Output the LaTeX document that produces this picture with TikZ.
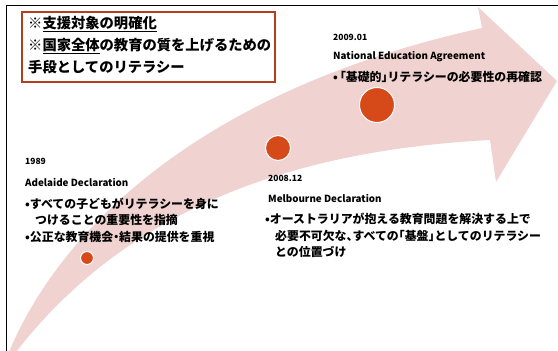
\documentclass[tikz,border=0pt]{standalone}
\usepackage{fontspec}
\setmainfont{Noto Sans CJK JP}[RawFeature=+halt]
\definecolor{bandpink}{RGB}{240,210,208}
\definecolor{dotred}{RGB}{214,74,26}
\definecolor{boxred}{RGB}{178,64,30}
\tikzset{
  dotnode/.style={circle,fill=dotred,draw=white,line width=1pt,inner sep=0pt},
  txt/.style={anchor=west,inner sep=0pt,font=\bfseries},
  yearlbl/.style={txt,font=\bfseries\fontsize{8.5}{10}\selectfont},
  decl/.style={txt,font=\bfseries\fontsize{9.8}{11}\selectfont},
  bul/.style={txt,font=\bfseries\fontsize{11.9}{13}\selectfont},
  ttl/.style={txt,font=\bfseries\fontsize{14.3}{16}\selectfont}
}
\begin{document}
\begin{tikzpicture}[x=1pt,y=-1pt]
\useasboundingbox (0,0) rectangle (558,351);
\fill[white] (0,0) rectangle (558,351);
% frame
\draw[black,line width=0.8pt] (6,351) -- (6,5) -- (558,5);
% curved arrow
\fill[bandpink] (9,352) .. controls (60,230) and (200,90) .. (482,28) -- (478,7) -- (557,81) -- (496,182) -- (490,140) .. controls (300,150) and (130,205) .. (16,352) -- cycle;
% dots
\node[dotnode,minimum size=13pt] (d1) at (87,258) {};
\node[dotnode,minimum size=25pt] (d2) at (278,148) {};
\node[dotnode,minimum size=35pt] (d3) at (377,105) {};
% title box
\draw[boxred,line width=1.5pt] (22,12) rectangle (275,82);
\node[ttl] (t1) at (28,24) {※\underline{支援対象の明確化}};
\node[ttl] (t2) at (28,46) {※\underline{国家全体}の教育の質を上げるための};
\node[ttl] (t3) at (28,67) {手段としてのリテラシー};
% 1989
\node[yearlbl] (y1) at (25,161) {1989};
\node[decl] (n1) at (25,182) {Adelaide Declaration};
\node[bul] (b11) at (25,204) {•すべての子どもがリテラシーを身に};
\node[bul] (b12) at (35,220) {つけることの重要性を指摘};
\node[bul] (b13) at (25,237) {•公正な教育機会・結果の提供を重視};
% 2008.12
\node[yearlbl] (y2) at (268,178) {2008.12};
\node[decl] (n2) at (268,198) {Melbourne Declaration};
\node[bul] (b21) at (265,219) {•オーストラリアが抱える教育問題を解決する上で};
\node[bul] (b22) at (275,236) {必要不可欠な、すべての「基盤」としてのリテラシー};
\node[bul] (b23) at (275,252) {との位置づけ};
% 2009.01
\node[yearlbl] (y3) at (333,37) {2009.01};
\node[decl] (n3) at (333,57) {National Education Agreement};
\node[bul] (b31) at (333,77) {•\kern2pt「基礎的」リテラシーの必要性の再確認};
\end{tikzpicture}
\end{document}
